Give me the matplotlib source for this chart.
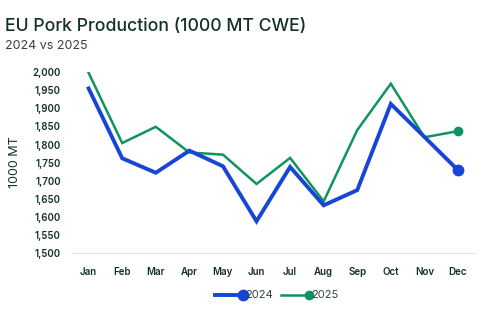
import matplotlib.pyplot as plt
from matplotlib.lines import Line2D

months = ["Jan", "Feb", "Mar", "Apr", "May", "Jun",
          "Jul", "Aug", "Sep", "Oct", "Nov", "Dec"]
prod_2024 = [1955, 1762, 1722, 1783, 1740, 1588, 1738, 1632, 1674, 1912, 1821, 1729]
prod_2025 = [1998, 1804, 1849, 1778, 1772, 1691, 1763, 1643, 1840, 1968, 1820, 1837]
yticks = list(range(1500, 2001, 50))

BLUE = "#1746d6"
GREEN = "#0f9460"
DARK = "#14302a"

plt.rcParams["font.family"] = ["Inter", "DejaVu Sans"]

fig = plt.figure(figsize=(4.92, 3.22), dpi=100)
ax = fig.add_axes([0.146, 0.214, 0.819, 0.562])

x = list(range(len(months)))
ax.plot(x, prod_2025, color=GREEN, lw=1.8, solid_joinstyle="miter")
ax.plot(x[-1], prod_2025[-1], "o", color=GREEN, ms=6)
ax.plot(x, prod_2024, color=BLUE, lw=2.8, solid_joinstyle="miter")
ax.plot(x[-1], prod_2024[-1], "o", color=BLUE, ms=7.5)

ax.set_xlim(-0.5, 11.5)
ax.set_ylim(1500, 2000)
ax.set_xticks(x)
ax.set_xticklabels(months, fontsize=7, color=DARK, fontweight="semibold")
ax.set_yticks(yticks)
ax.set_yticklabels([f"{v:,}" for v in yticks], fontsize=7, color=DARK,
                   fontweight="semibold")
ax.tick_params(length=0, pad=8)
ax.tick_params(axis="x", pad=10)
for side in ["top", "right", "left"]:
    ax.spines[side].set_visible(False)
ax.spines["bottom"].set_color("#e6e6e6")
ax.spines["bottom"].set_linewidth(0.8)
ax.set_ylabel("1000 MT", fontsize=9, color=DARK, labelpad=8)

fig.text(0.01, 0.905, "EU Pork Production (1000 MT CWE)", fontsize=12.7,
         color=DARK, fontweight="medium", va="baseline")
fig.text(0.01, 0.848, "2024 vs 2025", fontsize=9, color="#33443f",
         va="baseline")

# legend: line with the dot at its right end
leg_y = 0.083
for x0, col, lw, ms, label in [(0.437, BLUE, 2.8, 7.5, "2024"),
                               (0.571, GREEN, 1.8, 6, "2025")]:
    fig.add_artist(Line2D([x0, x0 + 0.057], [leg_y, leg_y], color=col, lw=lw,
                          transform=fig.transFigure))
    fig.add_artist(Line2D([x0 + 0.057], [leg_y], marker="o", color=col, ms=ms,
                          transform=fig.transFigure))
    fig.text(x0 + 0.061, leg_y, label, fontsize=8, color="#33443f",
             va="center")

fig.savefig("out.png", dpi=100)
